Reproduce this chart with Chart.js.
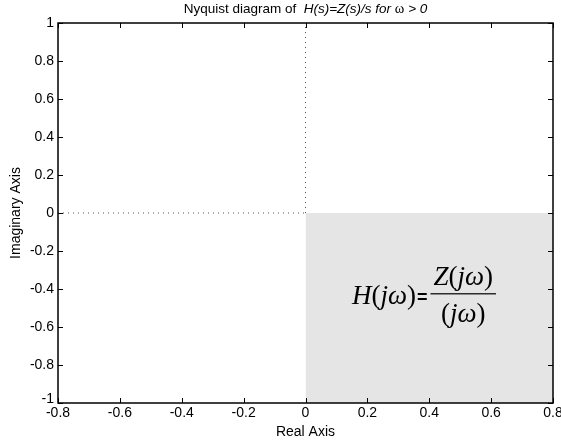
<!DOCTYPE html>
<html>
<head>
<meta charset="utf-8">
<script src="https://cdn.jsdelivr.net/npm/chart.js@4.4.0/dist/chart.umd.min.js"></script>
<style>
  html, body { margin: 0; padding: 0; background: #fff; }
  #wrap { width: 561px; height: 442px; }
</style>
</head>
<body>
<div id="wrap"><canvas id="nyq" width="561" height="442"></canvas></div>
<script>
// axis ticks
const xTicks = [-0.8, -0.6, -0.4, -0.2, 0, 0.2, 0.4, 0.6, 0.8];
const xTickLabels = ['-0.8', '-0.6', '-0.4', '-0.2', '0', '0.2', '0.4', '0.6', '0.8'];
const yTicks = [-1, -0.8, -0.6, -0.4, -0.2, 0, 0.2, 0.4, 0.6, 0.8, 1];
const yTickLabels = ['-1', '-0.8', '-0.6', '-0.4', '-0.2', '0', '0.2', '0.4', '0.6', '0.8', '1'];

// shaded quadrant (Re > 0, Im < 0), filled down to the axis minimum
const shadeX = [0, 0.8];
const shadeY = [0, 0];
// dotted reference lines
const vDotX = [0, 0];
const vDotY = [0, 1];
const hDotX = [-0.8, 0];
const hDotY = [0, 0];

const SANS = '"Liberation Sans", Arial, Helvetica, sans-serif';
const SERIF = '"Liberation Serif", "Times New Roman", serif';

function pts(xs, ys) {
    return xs.map((x, i) => ({ x: x, y: ys[i] }));
}

function drawParts(ctx, parts, x, y) {
    let cx = x;
    parts.forEach(p => {
        ctx.font = p.f;
        ctx.fillText(p.t, cx, y);
        cx += ctx.measureText(p.t).width;
    });
    return cx;
}

function partsWidth(ctx, parts) {
    let w = 0;
    parts.forEach(p => {
        ctx.font = p.f;
        w += ctx.measureText(p.t).width;
    });
    return w;
}

const decor = {
    id: 'decor',
    afterDraw(chart) {
        const ctx = chart.ctx;
        const a = chart.chartArea;
        const xs = chart.scales.x;
        const ys = chart.scales.y;
        const tick = 5;
        ctx.save();

        // box + inward ticks
        ctx.strokeStyle = '#000';
        ctx.lineWidth = 1.5;
        ctx.strokeRect(a.left, a.top, a.right - a.left, a.bottom - a.top);
        ctx.lineWidth = 1;
        ctx.beginPath();
        xs.ticks.forEach(t => {
            const px = Math.round(xs.getPixelForValue(t.value)) + 0.5;
            ctx.moveTo(px, a.bottom); ctx.lineTo(px, a.bottom - tick);
            ctx.moveTo(px, a.top); ctx.lineTo(px, a.top + tick);
        });
        ys.ticks.forEach(t => {
            const py = Math.round(ys.getPixelForValue(t.value)) + 0.5;
            ctx.moveTo(a.left, py); ctx.lineTo(a.left + tick, py);
            ctx.moveTo(a.right, py); ctx.lineTo(a.right - tick, py);
        });
        ctx.stroke();

        // tick labels
        ctx.fillStyle = '#000';
        ctx.font = '14px ' + SANS;
        ctx.textAlign = 'center';
        ctx.textBaseline = 'top';
        xs.ticks.forEach((t, i) => {
            ctx.fillText(xTickLabels[i], xs.getPixelForValue(t.value), a.bottom + 3);
        });
        ctx.textAlign = 'right';
        ys.ticks.forEach((t, i) => {
            const py = ys.getPixelForValue(t.value);
            if (i === 0) {
                ctx.textBaseline = 'bottom';
                ctx.fillText(yTickLabels[i], a.left - 4, py + 3);
            } else {
                ctx.textBaseline = 'middle';
                ctx.fillText(yTickLabels[i], a.left - 4, py);
            }
        });

        // axis titles
        const midX = (a.left + a.right) / 2;
        const midY = (a.top + a.bottom) / 2;
        ctx.textAlign = 'center';
        ctx.textBaseline = 'alphabetic';
        ctx.font = '14px ' + SANS;
        ctx.fillText('Real Axis', midX, 436);
        ctx.save();
        ctx.translate(20, midY);
        ctx.rotate(-Math.PI / 2);
        ctx.fillText('Imaginary Axis', 0, 0);
        ctx.restore();

        // title with mixed styles
        ctx.textAlign = 'left';
        const title = [
            { t: 'Nyquist diagram of  ', f: '13.5px ' + SANS },
            { t: 'H(s)=Z(s)/s for ', f: 'italic 13.5px ' + SANS },
            { t: '\u03c9', f: '14.5px ' + SERIF },
            { t: ' > 0', f: 'italic 13.5px ' + SANS }
        ];
        drawParts(ctx, title, midX - partsWidth(ctx, title) / 2, 13);

        // formula inside the shaded quadrant
        const fx = xs.getPixelForValue(0.15);
        const fy = ys.getPixelForValue(-0.48);
        const it = 'italic 27px ' + SERIF;
        const up = '27px ' + SERIF;
        const jw = [
            { t: '(', f: up }, { t: 'j', f: it }, { t: '\u03c9', f: it }, { t: ')', f: up }
        ];
        const lhs = [{ t: 'H', f: it }].concat(jw);
        let cx = drawParts(ctx, lhs, fx, fy);
        cx = drawParts(ctx, [{ t: '=', f: 'bold 18px ' + SANS }], cx + 1, fy - 1);
        const num = [{ t: 'Z', f: it }].concat(jw);
        const wNum = partsWidth(ctx, num);
        const wDen = partsWidth(ctx, jw);
        const fw = Math.max(wNum, wDen) + 6;
        const lx = cx + 3;
        const ly = fy - 11;
        ctx.fillRect(lx, ly, fw, 1.2);
        drawParts(ctx, num, lx + (fw - wNum) / 2, fy - 19);
        drawParts(ctx, jw, lx + (fw - wDen) / 2, fy + 18);

        ctx.restore();
    }
};

new Chart(document.getElementById('nyq'), {
    type: 'line',
    data: {
        datasets: [
            {
                data: pts(vDotX, vDotY),
                borderColor: '#555',
                borderWidth: 1,
                borderDash: [1, 4],
                pointRadius: 0,
                fill: false
            },
            {
                data: pts(hDotX, hDotY),
                borderColor: '#555',
                borderWidth: 1,
                borderDash: [1, 4],
                pointRadius: 0,
                fill: false
            },
            {
                data: pts(shadeX, shadeY),
                borderWidth: 0,
                borderColor: 'rgba(0,0,0,0)',
                backgroundColor: '#e5e5e5',
                pointRadius: 0,
                fill: 'start'
            }
        ]
    },
    options: {
        responsive: false,
        animation: false,
        layout: { padding: { left: 58, top: 23, right: 8, bottom: 39 } },
        scales: {
            x: {
                type: 'linear', min: -0.8, max: 0.8, display: false,
                afterBuildTicks: s => { s.ticks = xTicks.map(v => ({ value: v })); }
            },
            y: {
                type: 'linear', min: -1, max: 1, display: false,
                afterBuildTicks: s => { s.ticks = yTicks.map(v => ({ value: v })); }
            }
        },
        plugins: {
            legend: { display: false },
            tooltip: { enabled: false },
            title: { display: false }
        }
    },
    plugins: [decor]
});
</script>
</body>
</html>
